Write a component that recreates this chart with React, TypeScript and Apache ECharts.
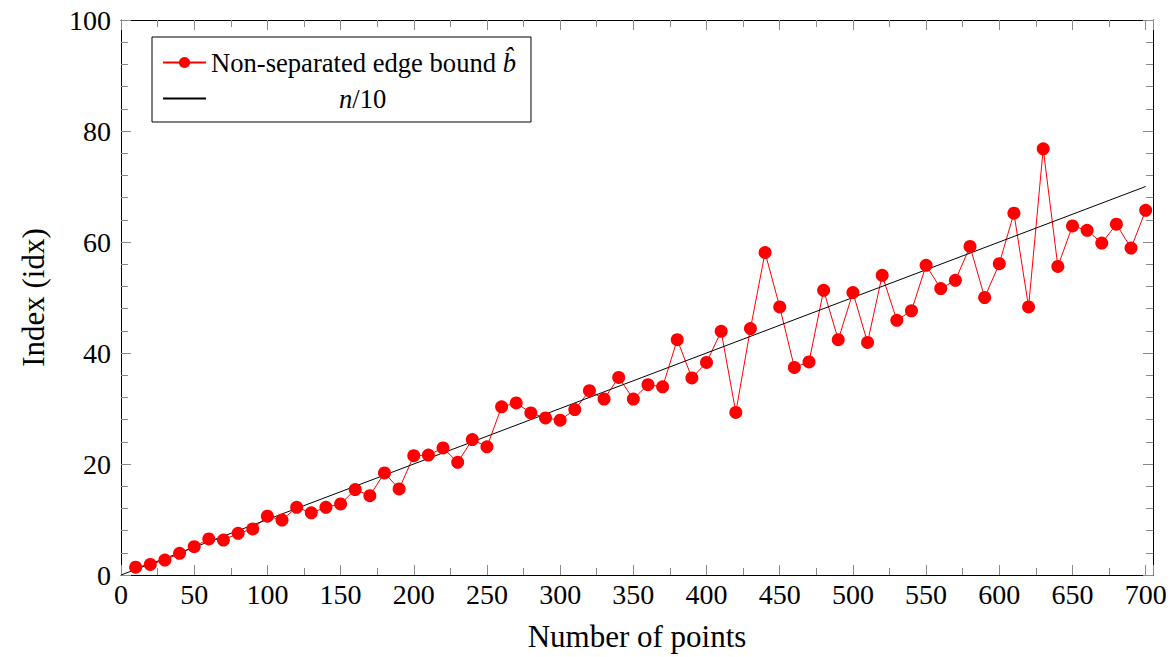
import React, { useEffect, useRef } from "react";
import * as echarts from "echarts";

// Number of points (n)
const pointCounts = [
  10, 20, 30, 40, 50, 60, 70, 80, 90, 100,
  110, 120, 130, 140, 150, 160, 170, 180, 190, 200,
  210, 220, 230, 240, 250, 260, 270, 280, 290, 300,
  310, 320, 330, 340, 350, 360, 370, 380, 390, 400,
  410, 420, 430, 440, 450, 460, 470, 480, 490, 500,
  510, 520, 530, 540, 550, 560, 570, 580, 590, 600,
  610, 620, 630, 640, 650, 660, 670, 680, 690, 700,
];

// Non-separated edge bound b-hat (index)
const boundValues = [
  1.4, 1.9, 2.7, 3.9, 5.1, 6.5, 6.3, 7.5, 8.3, 10.6,
  9.9, 12.2, 11.2, 12.2, 12.8, 15.4, 14.3, 18.4, 15.5, 21.5,
  21.6, 22.9, 20.3, 24.4, 23.1, 30.3, 31.0, 29.2, 28.3, 27.9,
  29.8, 33.2, 31.7, 35.6, 31.7, 34.3, 33.9, 42.4, 35.5, 38.3,
  43.9, 29.3, 44.4, 58.1, 48.3, 37.4, 38.4, 51.3, 42.4, 50.9,
  41.9, 54.0, 45.9, 47.6, 55.8, 51.6, 53.1, 59.2, 50.0, 56.1,
  65.2, 48.3, 76.8, 55.6, 62.9, 62.1, 59.8, 63.2, 58.9, 65.7,
];

// Reference line n/10 (end points)
const refLineN = [0, 700];
const refLineIdx = [0, 70];

const seriesNames = ["Non-separated edge bound b̂", "n/10"];

const FONT = "'Liberation Serif', 'Times New Roman', serif";

export default function App() {
  const ref = useRef<HTMLDivElement>(null);

  useEffect(() => {
    if (!ref.current) return;
    const chart = echarts.init(ref.current, undefined, { renderer: "svg" });

    const tickColor = "#8a8a8a";
    const baseAxis = {
      type: "value" as const,
      axisLine: { show: true, onZero: false, lineStyle: { color: "#000", width: 1 } },
      axisTick: { show: true, inside: true, length: 10, lineStyle: { color: tickColor, width: 1 } },
      minorTick: { show: true, length: 7, lineStyle: { color: tickColor, width: 1 } },
      splitLine: { show: false },
      minorSplitLine: { show: false },
    };

    const option = {
      animation: false,
      backgroundColor: "#fff",
      grid: { left: 121, right: 21, top: 20, bottom: 76, containLabel: false },
      legend: {
        orient: "vertical",
        left: 152,
        top: 37,
        padding: [12, 15, 10, 10],
        itemGap: 9,
        itemWidth: 43,
        itemHeight: 14,
        borderColor: "#000",
        borderWidth: 1,
        backgroundColor: "#fff",
        data: [
          { name: seriesNames[0] },
          { name: seriesNames[1], itemStyle: { opacity: 0 } },
        ],
        formatter: (name: string) =>
          name === seriesNames[0]
            ? "{t|Non-separated edge bound }{i|b̂}"
            : "{p|}{i|n}{t|/10}",
        textStyle: {
          fontFamily: FONT,
          fontSize: 26.6,
          color: "#000",
          rich: {
            t: { fontFamily: FONT, fontSize: 26.6, color: "#000", lineHeight: 26 },
            i: { fontFamily: FONT, fontSize: 26.6, fontStyle: "italic", color: "#000", lineHeight: 26 },
            p: { width: 128, lineHeight: 26 },
          },
        },
      },
      xAxis: [
        {
          ...baseAxis,
          position: "bottom",
          min: 0,
          max: 705,
          interval: 50,
          minorTick: { ...baseAxis.minorTick, splitNumber: 2 },
          axisLabel: {
            show: true,
            margin: 5,
            fontFamily: FONT,
            fontSize: 28,
            color: "#000",
            showMaxLabel: false,
          },
          name: "Number of points",
          nameLocation: "middle",
          nameGap: 46,
          nameTextStyle: { fontFamily: FONT, fontSize: 31, color: "#000" },
        },
        {
          ...baseAxis,
          position: "top",
          min: 0,
          max: 705,
          interval: 50,
          minorTick: { ...baseAxis.minorTick, splitNumber: 2 },
          axisLabel: { show: false },
        },
      ],
      yAxis: [
        {
          ...baseAxis,
          position: "left",
          min: 0,
          max: 100,
          interval: 20,
          minorTick: { ...baseAxis.minorTick, splitNumber: 5 },
          axisLabel: {
            show: true,
            margin: 10,
            fontFamily: FONT,
            fontSize: 28,
            color: "#000",
          },
          name: "Index (idx)",
          nameLocation: "middle",
          nameGap: 72,
          nameTextStyle: { fontFamily: FONT, fontSize: 31, color: "#000" },
        },
        {
          ...baseAxis,
          position: "right",
          min: 0,
          max: 100,
          interval: 20,
          minorTick: { ...baseAxis.minorTick, splitNumber: 5 },
          axisLabel: { show: false },
        },
      ],
      series: [
        {
          name: seriesNames[0],
          type: "line",
          data: pointCounts.map((n, i) => [n, boundValues[i]]),
          symbol: "circle",
          symbolSize: 13,
          itemStyle: { color: "#ff0000" },
          lineStyle: { color: "#ff0000", width: 1 },
        },
        {
          name: seriesNames[1],
          type: "line",
          data: refLineN.map((n, i) => [n, refLineIdx[i]]),
          symbol: "none",
          itemStyle: { color: "#000" },
          lineStyle: { color: "#000", width: 1 },
        },
      ],
    };

    chart.setOption(option as any);
    return () => chart.dispose();
  }, []);

  return (
    <div
      ref={ref}
      style={{ position: "absolute", left: 0, top: 0, width: 1174, height: 657 }}
    />
  );
}
